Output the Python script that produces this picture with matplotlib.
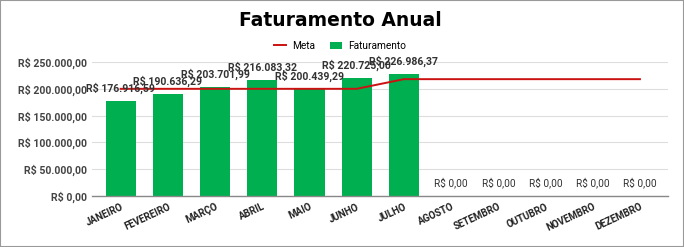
#!/usr/bin/env python3
"""Faturamento anual: bar chart with meta line."""

import matplotlib
matplotlib.use("Agg")
import matplotlib.pyplot as plt
from matplotlib.ticker import FuncFormatter

MESES = ["JANEIRO", "FEVEREIRO", "MARÇO", "ABRIL", "MAIO", "JUNHO",
         "JULHO", "AGOSTO", "SETEMBRO", "OUTUBRO", "NOVEMBRO", "DEZEMBRO"]
FATURAMENTO = [176916.59, 190636.29, 203701.99, 216083.32, 200439.29, 220725.00,
               226986.37, 0, 0, 0, 0, 0]
META = [200000, 200000, 200000, 200000, 200000, 200000,
        218000, 218000, 218000, 218000, 218000, 218000]

GREEN = '#00b050'
RED = '#cc1111'


def brl(value):
    """format as brazilian currency"""
    s = f"{value:,.2f}"
    s = s.replace(',', 'X').replace('.', ',').replace('X', '.')
    return f"R$ {s}"


plt.rcParams['font.family'] = ['Roboto', 'DejaVu Sans']

fig = plt.figure(figsize=(6.84, 2.47), dpi=100)
ax = fig.add_axes([0.135, 0.206, 0.842, 0.543])

x = list(range(len(MESES)))
ax.bar(x, FATURAMENTO, width=0.64, color=GREEN, label='Faturamento', zorder=2)
ax.plot(x, META, color=RED, linewidth=1.4, label='Meta', zorder=3)

for xi, val in zip(x, FATURAMENTO):
    if val > 0:
        ax.annotate(brl(val), (xi, val), xytext=(0, 5), textcoords='offset points',
                    ha='center', va='bottom', fontsize=7.6, fontweight='bold', color='#333333',
                    zorder=4)
    else:
        ax.annotate(brl(val), (xi, val), xytext=(0, 6), textcoords='offset points',
                    ha='center', va='bottom', fontsize=7.3, color='#333333', zorder=4)

ax.set_ylim(0, 250000)
ax.set_xlim(-0.6, 11.6)
ax.set_yticks([0, 50000, 100000, 150000, 200000, 250000])
ax.yaxis.set_major_formatter(FuncFormatter(lambda v, p: brl(v)))
ax.set_xticks(x)
ax.set_xticklabels(MESES, rotation=25, ha='right', rotation_mode='anchor',
                   fontsize=7, fontweight='bold', color='#222222')
for lbl in ax.get_yticklabels():
    lbl.set_fontsize(7.6)
    lbl.set_fontweight('bold')
    lbl.set_color('#444444')

ax.grid(which='major', axis='y', color='#dddddd', linewidth=0.8, zorder=0)
ax.tick_params(axis='both', length=0, pad=4)
for side in ['top', 'right', 'left']:
    ax.spines[side].set_visible(False)
ax.spines['bottom'].set_color('#888888')
ax.spines['bottom'].set_linewidth(1)

handles, labels = ax.get_legend_handles_labels()
fig.legend(handles, labels, loc='center', bbox_to_anchor=(0.497, 0.815),
           ncol=2, frameon=False, fontsize=7.3, handlelength=1.2, columnspacing=1.5,
           handletextpad=0.6)

fig.suptitle('Faturamento Anual', x=0.497, y=0.955, fontsize=13.5, fontweight='bold',
             family=['DejaVu Sans'])

fig.patches.append(plt.Rectangle((0, 0), 1, 1, transform=fig.transFigure, fill=False,
                                 edgecolor='#999999', linewidth=1.5))

plt.savefig('out.png', dpi=100)
